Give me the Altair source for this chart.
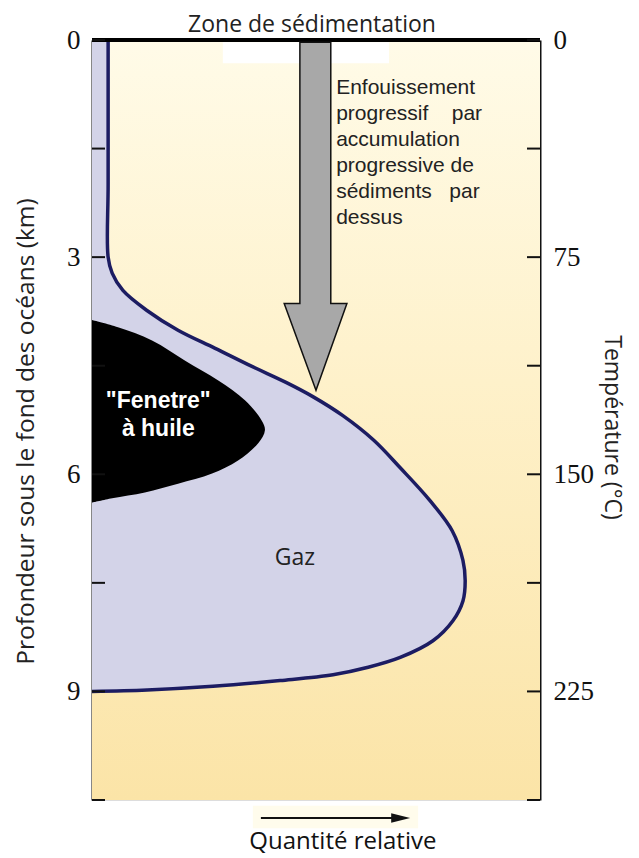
import altair as alt
import pandas as pd

# ---------------- data ----------------
# gas envelope (depth in km, relative quantity 0-100)
gas_depth = [0.0, 2.0, 3.0, 3.22, 3.46, 3.73, 4.01, 4.26, 4.51, 4.73, 4.92, 5.19, 5.53, 5.91,
             6.36, 6.78, 7.19, 7.47, 7.75, 8.02, 8.30, 8.53, 8.67, 8.77, 8.85, 8.93, 8.98, 9.0]
gas_qty = [3.6, 3.6, 3.6, 4.5, 6.9, 12.1, 19.2, 27.5, 35.7, 43.3, 49.1, 56.0, 62.9, 68.8,
           75.4, 80.4, 82.8, 83.3, 82.8, 80.6, 76.1, 68.8, 61.4, 53.8, 42.0, 27.0, 12.3, 0.0]

# oil window
oil_depth = [3.87, 3.97, 4.15, 4.43, 4.70, 4.98, 5.26, 5.39, 5.57, 5.81, 5.99, 6.13, 6.25, 6.33, 6.39]
oil_qty = [0.0, 5.8, 13.4, 20.8, 28.1, 34.2, 37.9, 38.6, 37.1, 32.6, 26.8, 19.2, 11.8, 4.5, 0.0]

# burial arrow outline (depth, left edge, right edge)
arrow_depth = [0.03, 3.64, 3.641, 4.84]
arrow_left = [46.4, 46.4, 42.9, 50.0]
arrow_right = [53.3, 53.3, 56.9, 50.0]

# axes
x_domain = [0, 100]
depth_domain = [0, 10.5]
depth_ticks = [0, 1.5, 3, 4.5, 6, 7.5, 9, 10.5]
depth_labels = [0, 3, 6, 9]
temp_domain = [0, 262.5]
temp_ticks = [0, 37.5, 75, 112.5, 150, 187.5, 225, 262.5]
temp_labels = [0, 75, 150, 225]

annotation = ("Enfouissement\nprogressif\u00a0\u00a0\u00a0\u00a0par\naccumulation\nprogressive de\n"
              "sédiments\u00a0\u00a0\u00a0par\ndessus")
oil_label = "\"Fenetre\"\nà huile"
gas_label = "Gaz"
x_title = "Quantité relative"
y_title = "Profondeur sous le fond des océans (km)"
y2_title = "Température (°C)"
main_title = "Zone de sédimentation"

# ---------------- styles ----------------
SANS = "Open Sans"
GAS_FILL = "#D3D3E8"
GAS_LINE = "#1C1C62"

xs = alt.Scale(domain=x_domain, nice=False, zero=False)
ds = alt.Scale(domain=depth_domain, reverse=True, nice=False, zero=False)
left_axis = alt.Axis(values=depth_labels, orient="left", title=y_title, ticks=False, grid=False,
                     domainColor="#111", domainWidth=2, labelFont="Liberation Serif",
                     labelFontSize=27, labelColor="#111", labelPadding=12, labelOverlap=False,
                     titleFont=SANS, titleFontSize=24.5, titleFontWeight="normal",
                     titleColor="#222", titlePadding=28, titleY=391)


def X(f):
    return alt.X(f, type="quantitative", scale=xs, axis=None)


def Y(f):
    return alt.Y(f, type="quantitative", scale=ds, axis=left_axis)


n_gas = len(gas_depth)
gas_df = pd.DataFrame({"depth": gas_depth, "qty": gas_qty, "base": [0.0] * n_gas,
                       "i": list(range(n_gas))})
oil_df = pd.DataFrame({"depth": oil_depth, "qty": oil_qty, "base": [0.0] * len(oil_depth)})
arrow_df = pd.DataFrame({"depth": arrow_depth, "l": arrow_left, "r": arrow_right})
frame_df = pd.DataFrame({"x0": [x_domain[0]], "x1": [x_domain[1]],
                         "d0": [depth_domain[0]], "d1": [depth_domain[1]]})

background = alt.Chart(frame_df).mark_rect(
    color=alt.Gradient(gradient="linear", x1=0, x2=0, y1=0, y2=1,
                       stops=[alt.GradientStop(offset=0, color="#FFFBE8"),
                              alt.GradientStop(offset=0.45, color="#FEF1CA"),
                              alt.GradientStop(offset=1, color="#FBE4A7")])
).encode(x=X("x0"), x2="x1", y=Y("d0"), y2="d1")

white_patch = alt.Chart(pd.DataFrame({"x0": [29.2], "x1": [66.3], "d0": [0.03], "d1": [0.32]})).mark_rect(
    color="#FFFFFF").encode(x=X("x0"), x2="x1", y=Y("d0"), y2="d1")

gas_area = alt.Chart(gas_df).mark_area(orient="horizontal", interpolate="catmull-rom",
                                       color=GAS_FILL).encode(
    y=Y("depth"), x=X("qty"), x2="base")

oil_area = alt.Chart(oil_df).mark_area(orient="horizontal", interpolate="catmull-rom",
                                       color="#000000").encode(
    y=Y("depth"), x=X("qty"), x2="base")

gas_line = alt.Chart(gas_df).mark_line(interpolate="catmull-rom", color=GAS_LINE,
                                       strokeWidth=3.5).encode(
    y=Y("depth"), x=X("qty"), order=alt.Order("i:Q"))

top_line = alt.Chart(frame_df).mark_rule(color="#000", strokeWidth=4).encode(
    x=X("x0"), x2="x1", y=Y("d0"))

arrow = alt.Chart(arrow_df).mark_area(orient="horizontal", interpolate="linear",
                                      color="#A8A8A8", stroke="#111", strokeWidth=1.5).encode(
    y=Y("depth"), x=X("l"), x2="r")

left_ticks = alt.Chart(pd.DataFrame({"depth": depth_ticks})).mark_rule(
    color="#111", strokeWidth=2).encode(
    y=Y("depth"), x=alt.X(datum=0, scale=xs, axis=None), x2=alt.X2(datum=2.9))

annot = alt.Chart(pd.DataFrame({"t": [annotation], "x": [54.5], "d": [0.75]})).mark_text(
    align="left", baseline="alphabetic", font="Liberation Sans", fontSize=21,
    lineHeight=26, lineBreak="\n", color="#222").encode(x=X("x"), y=Y("d"), text="t:N")

oil_text = alt.Chart(pd.DataFrame({"t": [oil_label], "x": [14.8], "d": [5.08]})).mark_text(
    align="center", baseline="alphabetic", font="Liberation Sans", fontWeight="bold",
    fontSize=23, lineHeight=28, lineBreak="\n", color="#FFFFFF").encode(
    x=X("x"), y=Y("d"), text="t:N")

gas_text = alt.Chart(pd.DataFrame({"t": [gas_label], "x": [45.3], "d": [7.15]})).mark_text(
    align="center", baseline="middle", font=SANS, fontSize=23, color="#222").encode(
    x=X("x"), y=Y("d"), text="t:N")

# bottom "relative quantity" arrow and label
pale_box = alt.Chart(pd.DataFrame({"x0": [35.9], "x1": [72.8], "d0": [10.58], "d1": [10.89]})).mark_rect(
    color="#FFFCEC").encode(x=X("x0"), x2="x1", y=Y("d0"), y2="d1")
q_line = alt.Chart(pd.DataFrame({"x0": [37.7], "x1": [68.9], "d": [10.75]})).mark_rule(
    color="#111", strokeWidth=2).encode(x=X("x0"), x2="x1", y=Y("d"))
q_head = alt.Chart(pd.DataFrame({"x": [68.9], "d": [10.75]})).mark_point(
    shape="M-1,-0.5L1,0L-1,0.5Z", size=361, filled=True, color="#111", opacity=1).encode(
    x=X("x"), y=Y("d"))
q_text = alt.Chart(pd.DataFrame({"t": [x_title], "x": [56.0], "d": [11.18]})).mark_text(
    align="center", baseline="alphabetic", font=SANS, fontSize=24, color="#111").encode(
    x=X("x"), y=Y("d"), text="t:N")

depth_layer = alt.layer(background, white_patch, gas_area, oil_area, gas_line, top_line,
                        arrow, left_ticks, annot, oil_text, gas_text,
                        pale_box, q_line, q_head, q_text)

temp_layer = alt.Chart(pd.DataFrame({"temp": temp_ticks})).mark_rule(
    color="#111", strokeWidth=2).encode(
    y=alt.Y("temp:Q", scale=alt.Scale(domain=temp_domain, reverse=True, nice=False, zero=False),
            axis=alt.Axis(values=temp_labels, orient="right", title=y2_title, ticks=False,
                          grid=False, domainColor="#111", domainWidth=2,
                          labelFont="Liberation Serif", labelFontSize=27, labelColor="#111",
                          labelPadding=13, labelOverlap=False, titleFont=SANS,
                          titleFontSize=23, titleFontWeight="normal", titleColor="#222",
                          titlePadding=6, titleY=387)),
    x=alt.X(datum=97.1, scale=xs, axis=None), x2=alt.X2(datum=100))

chart = alt.layer(depth_layer, temp_layer).resolve_scale(y="independent").properties(
    width=448, height=760,
    title=alt.TitleParams(main_title, font=SANS, fontSize=23, fontWeight="normal",
                          color="#222", anchor="middle", offset=8, dy=19, dx=-4),
    autosize=alt.AutoSizeParams(type="none"),
    padding={"left": 84, "top": 32, "right": 91, "bottom": 55},
).configure_view(stroke=None).configure(background="#FFFFFF")

chart.save("out.html", embed_options={"renderer": "svg", "actions": False})
